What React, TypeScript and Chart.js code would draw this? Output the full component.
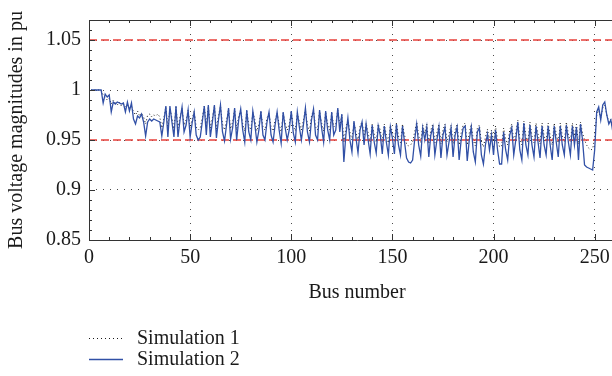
import { useEffect, useRef } from 'react';
import { Chart, registerables } from 'chart.js';

Chart.register(...registerables);

// Bus indices 1..262
const busNumbers: number[] = Array.from({ length: 262 }, (_, i) => i + 1);

const simulation1: number[] = [
  1.000, 1.000, 1.000, 1.000, 1.000, 1.000, 0.995, 0.993, 0.990, 0.992,
  0.986, 0.990, 0.987, 0.985, 0.988, 0.984, 0.986, 0.983, 0.985, 0.982,
  0.984, 0.978, 0.975, 0.979, 0.974, 0.977, 0.973, 0.966, 0.975, 0.976,
  0.973, 0.975, 0.974, 0.976, 0.973, 0.962, 0.972, 0.983, 0.962, 0.982,
  0.972, 0.961, 0.983, 0.962, 0.973, 0.982, 0.965, 0.970, 0.980, 0.962,
  0.971, 0.979, 0.963, 0.960, 0.962, 0.972, 0.984, 0.964, 0.984, 0.962,
  0.972, 0.984, 0.961, 0.974, 0.984, 0.966, 0.960, 0.970, 0.981, 0.961,
  0.968, 0.981, 0.960, 0.974, 0.980, 0.966, 0.959, 0.979, 0.965, 0.960,
  0.978, 0.970, 0.959, 0.966, 0.978, 0.963, 0.960, 0.972, 0.977, 0.963,
  0.959, 0.970, 0.977, 0.966, 0.958, 0.977, 0.967, 0.960, 0.966, 0.978,
  0.964, 0.959, 0.977, 0.968, 0.960, 0.970, 0.980, 0.965, 0.959, 0.974,
  0.980, 0.963, 0.960, 0.979, 0.967, 0.959, 0.978, 0.966, 0.960, 0.977,
  0.963, 0.966, 0.980, 0.965, 0.975, 0.948, 0.962, 0.970, 0.958, 0.950,
  0.968, 0.958, 0.949, 0.964, 0.968, 0.954, 0.967, 0.957, 0.948, 0.966,
  0.956, 0.948, 0.966, 0.960, 0.948, 0.966, 0.955, 0.947, 0.965, 0.958,
  0.948, 0.967, 0.954, 0.947, 0.966, 0.955, 0.946, 0.944, 0.945, 0.948,
  0.958, 0.968, 0.954, 0.947, 0.965, 0.957, 0.966, 0.946, 0.960, 0.966,
  0.947, 0.957, 0.966, 0.946, 0.960, 0.966, 0.948, 0.956, 0.965, 0.946,
  0.960, 0.966, 0.945, 0.957, 0.965, 0.967, 0.945, 0.957, 0.966, 0.950,
  0.944, 0.962, 0.965, 0.948, 0.943, 0.953, 0.961, 0.950, 0.960, 0.948,
  0.964, 0.950, 0.943, 0.944, 0.962, 0.951, 0.945, 0.960, 0.966, 0.948,
  0.957, 0.970, 0.951, 0.945, 0.969, 0.954, 0.948, 0.968, 0.954, 0.947,
  0.967, 0.956, 0.946, 0.967, 0.954, 0.948, 0.967, 0.954, 0.945, 0.967,
  0.956, 0.947, 0.967, 0.954, 0.948, 0.968, 0.956, 0.948, 0.967, 0.954,
  0.966, 0.946, 0.968, 0.957, 0.950, 0.945, 0.942, 0.940, 0.941, 0.952,
  0.975, 0.980, 0.972, 0.982, 0.985, 0.975, 0.968, 0.971, 0.962, 0.965,
  0.960, 0.963,
];

const simulation2: number[] = [
  1.000, 1.000, 1.000, 1.000, 1.000, 1.000, 0.987, 0.996, 0.993, 0.995,
  0.978, 0.988, 0.986, 0.988, 0.987, 0.986, 0.987, 0.978, 0.988, 0.979,
  0.987, 0.971, 0.966, 0.974, 0.972, 0.976, 0.968, 0.954, 0.968, 0.971,
  0.969, 0.971, 0.970, 0.969, 0.968, 0.954, 0.968, 0.984, 0.953, 0.984,
  0.968, 0.953, 0.984, 0.953, 0.970, 0.983, 0.958, 0.965, 0.980, 0.953,
  0.967, 0.978, 0.955, 0.950, 0.953, 0.968, 0.984, 0.955, 0.985, 0.953,
  0.968, 0.985, 0.952, 0.970, 0.985, 0.958, 0.949, 0.965, 0.982, 0.951,
  0.962, 0.982, 0.950, 0.970, 0.981, 0.960, 0.948, 0.980, 0.958, 0.950,
  0.979, 0.965, 0.948, 0.960, 0.979, 0.955, 0.950, 0.968, 0.978, 0.955,
  0.948, 0.965, 0.978, 0.960, 0.947, 0.978, 0.962, 0.950, 0.960, 0.979,
  0.957, 0.948, 0.978, 0.963, 0.950, 0.965, 0.982, 0.958, 0.948, 0.970,
  0.981, 0.955, 0.950, 0.980, 0.962, 0.948, 0.979, 0.960, 0.950, 0.978,
  0.955, 0.960, 0.982, 0.958, 0.976, 0.928, 0.955, 0.972, 0.950, 0.938,
  0.969, 0.952, 0.937, 0.960, 0.968, 0.945, 0.966, 0.950, 0.936, 0.965,
  0.948, 0.937, 0.964, 0.955, 0.936, 0.964, 0.948, 0.935, 0.963, 0.952,
  0.936, 0.966, 0.945, 0.935, 0.964, 0.948, 0.932, 0.928, 0.927, 0.930,
  0.950, 0.966, 0.945, 0.934, 0.962, 0.950, 0.963, 0.933, 0.955, 0.963,
  0.935, 0.950, 0.963, 0.932, 0.955, 0.963, 0.935, 0.948, 0.962, 0.933,
  0.955, 0.963, 0.930, 0.950, 0.962, 0.964, 0.929, 0.950, 0.963, 0.938,
  0.928, 0.958, 0.962, 0.935, 0.926, 0.945, 0.956, 0.940, 0.955, 0.935,
  0.960, 0.940, 0.926, 0.926, 0.958, 0.940, 0.930, 0.955, 0.962, 0.935,
  0.950, 0.968, 0.940, 0.930, 0.967, 0.945, 0.935, 0.965, 0.945, 0.933,
  0.964, 0.948, 0.932, 0.964, 0.945, 0.935, 0.964, 0.945, 0.930, 0.964,
  0.948, 0.933, 0.964, 0.945, 0.935, 0.965, 0.948, 0.935, 0.964, 0.945,
  0.963, 0.930, 0.966, 0.950, 0.925, 0.923, 0.922, 0.921, 0.920, 0.940,
  0.978, 0.983, 0.970, 0.985, 0.988, 0.975, 0.966, 0.970, 0.958, 0.962,
  0.955, 0.960,
];

const voltageLimits: number[] = [1.05, 0.95];
const xRange: number[] = [0, 265];
const yRange: number[] = [0.85, 1.07];
const xTickValues: number[] = [0, 50, 100, 150, 200, 250];
const yTickValues: number[] = [0.85, 0.9, 0.95, 1, 1.05];
const seriesNames: string[] = ['Simulation 1', 'Simulation 2'];

const FONT = "'Liberation Serif', 'Times New Roman', serif";
const BLUE = '#3150a6';
const RED = '#e8403b';
const BLACK = '#1a1a1a';

const framePlugin = {
  id: 'frameAndInnerTicks',
  afterDraw(chart: any) {
    const { ctx, chartArea, scales } = chart;
    const { left, right, top, bottom } = chartArea;
    ctx.save();
    ctx.strokeStyle = '#333';
    ctx.lineWidth = 1;
    ctx.setLineDash([]);
    ctx.beginPath();
    ctx.moveTo(right, top + 0.5);
    ctx.lineTo(left + 0.5, top + 0.5);
    ctx.lineTo(left + 0.5, bottom + 0.5);
    ctx.lineTo(right, bottom + 0.5);
    ctx.stroke();
    const xs = scales.x;
    for (let v = xRange[0]; v <= xRange[1]; v += 10) {
      const px = Math.round(xs.getPixelForValue(v)) + 0.5;
      const len = v % 50 === 0 ? 6 : 3;
      ctx.beginPath();
      ctx.moveTo(px, bottom);
      ctx.lineTo(px, bottom - len);
      ctx.moveTo(px, top);
      ctx.lineTo(px, top + len);
      ctx.stroke();
    }
    const ys = scales.y;
    for (let i = 0; i <= 22; i++) {
      const v = yRange[0] + i * 0.01;
      const py = Math.round(ys.getPixelForValue(v)) + 0.5;
      const len = i % 5 === 0 ? 6 : 3;
      ctx.beginPath();
      ctx.moveTo(left, py);
      ctx.lineTo(left + len, py);
      ctx.stroke();
    }
    ctx.restore();
  },
};

export default function App() {
  const canvasRef = useRef<HTMLCanvasElement | null>(null);

  useEffect(() => {
    if (!canvasRef.current) return;
    const limitDatasets = voltageLimits.map((lim) => ({
      label: 'limit ' + lim,
      data: [
        { x: xRange[0], y: lim },
        { x: xRange[1], y: lim },
      ],
      borderColor: RED,
      borderWidth: 1.3,
      borderDash: [8, 4],
      pointRadius: 0,
      fill: false,
      order: 1,
    }));
    const chart = new Chart(canvasRef.current, {
      type: 'line',
      data: {
        datasets: [
          {
            label: seriesNames[1],
            data: busNumbers.map((b, i) => ({ x: b, y: simulation2[i] })),
            borderColor: BLUE,
            borderWidth: 1.3,
            pointRadius: 0,
            fill: false,
            order: 0,
          },
          ...limitDatasets,
          {
            label: seriesNames[0],
            data: busNumbers.map((b, i) => ({ x: b, y: simulation1[i] })),
            borderColor: BLACK,
            borderWidth: 1,
            borderDash: [1, 2.5],
            pointRadius: 0,
            fill: false,
            order: 2,
          },
        ],
      },
      options: {
        animation: false,
        responsive: false,
        maintainAspectRatio: false,
        layout: { padding: { top: 20, left: 0, right: 0, bottom: 71 } },
        plugins: { legend: { display: false }, tooltip: { enabled: false } },
        elements: { line: { tension: 0 }, point: { radius: 0 } },
        scales: {
          x: {
            type: 'linear',
            min: xRange[0],
            max: xRange[1],
            afterBuildTicks: (s: any) => {
              s.ticks = xTickValues.map((v) => ({ value: v }));
            },
            afterFit: (s: any) => {
              s.height = 65;
            },
            grid: { color: 'rgba(0,0,0,0.7)', lineWidth: 1, drawTicks: false },
            border: { display: false, dash: [1, 6] },
            ticks: {
              padding: 6,
              color: BLACK,
              font: { family: FONT, size: 20 },
              maxRotation: 0,
              autoSkip: false,
              callback: (v: any) => String(Number(Number(v).toFixed(2))),
            },
            title: {
              display: true,
              text: 'Bus number',
              color: BLACK,
              font: { family: FONT, size: 20 },
              padding: { top: 0, bottom: 0 },
            },
          },
          y: {
            type: 'linear',
            min: yRange[0],
            max: yRange[1],
            afterBuildTicks: (s: any) => {
              s.ticks = yTickValues.map((v) => ({ value: v }));
            },
            afterFit: (s: any) => {
              s.width = 89;
            },
            grid: { color: 'rgba(0,0,0,0.7)', lineWidth: 1, drawTicks: false },
            border: { display: false, dash: [1, 6] },
            ticks: {
              padding: 8,
              color: BLACK,
              font: { family: FONT, size: 20 },
              callback: (v: any) => String(Number(Number(v).toFixed(2))),
            },
            title: {
              display: true,
              text: 'Bus voltage magnitudes in pu',
              color: BLACK,
              font: { family: FONT, size: 20 },
              padding: { top: 5, bottom: 0 },
            },
          },
        },
      },
      plugins: [framePlugin],
    } as any);
    return () => chart.destroy();
  }, []);

  const legendItem = (name: string, dotted: boolean) => (
    <div key={name} style={{ display: 'flex', alignItems: 'center', height: 21 }}>
      <svg width={34} height={10} style={{ marginRight: 14 }}>
        <line
          x1={0}
          y1={5.5}
          x2={34}
          y2={5.5}
          stroke={dotted ? BLACK : BLUE}
          strokeWidth={dotted ? 1 : 1.3}
          strokeDasharray={dotted ? '1 3' : undefined}
        />
      </svg>
      <span style={{ fontFamily: FONT, fontSize: 20, color: BLACK, lineHeight: '21px' }}>{name}</span>
    </div>
  );

  return (
    <div
      style={{
        position: 'fixed',
        left: 0,
        top: 0,
        width: 612,
        height: 376,
        overflow: 'hidden',
        background: '#fff',
      }}
    >
      <canvas ref={canvasRef} width={625} height={376} style={{ width: 625, height: 376, display: 'block' }} />
      <div style={{ position: 'absolute', left: 89, top: 327 }}>
        {legendItem(seriesNames[0], true)}
        {legendItem(seriesNames[1], false)}
      </div>
    </div>
  );
}
